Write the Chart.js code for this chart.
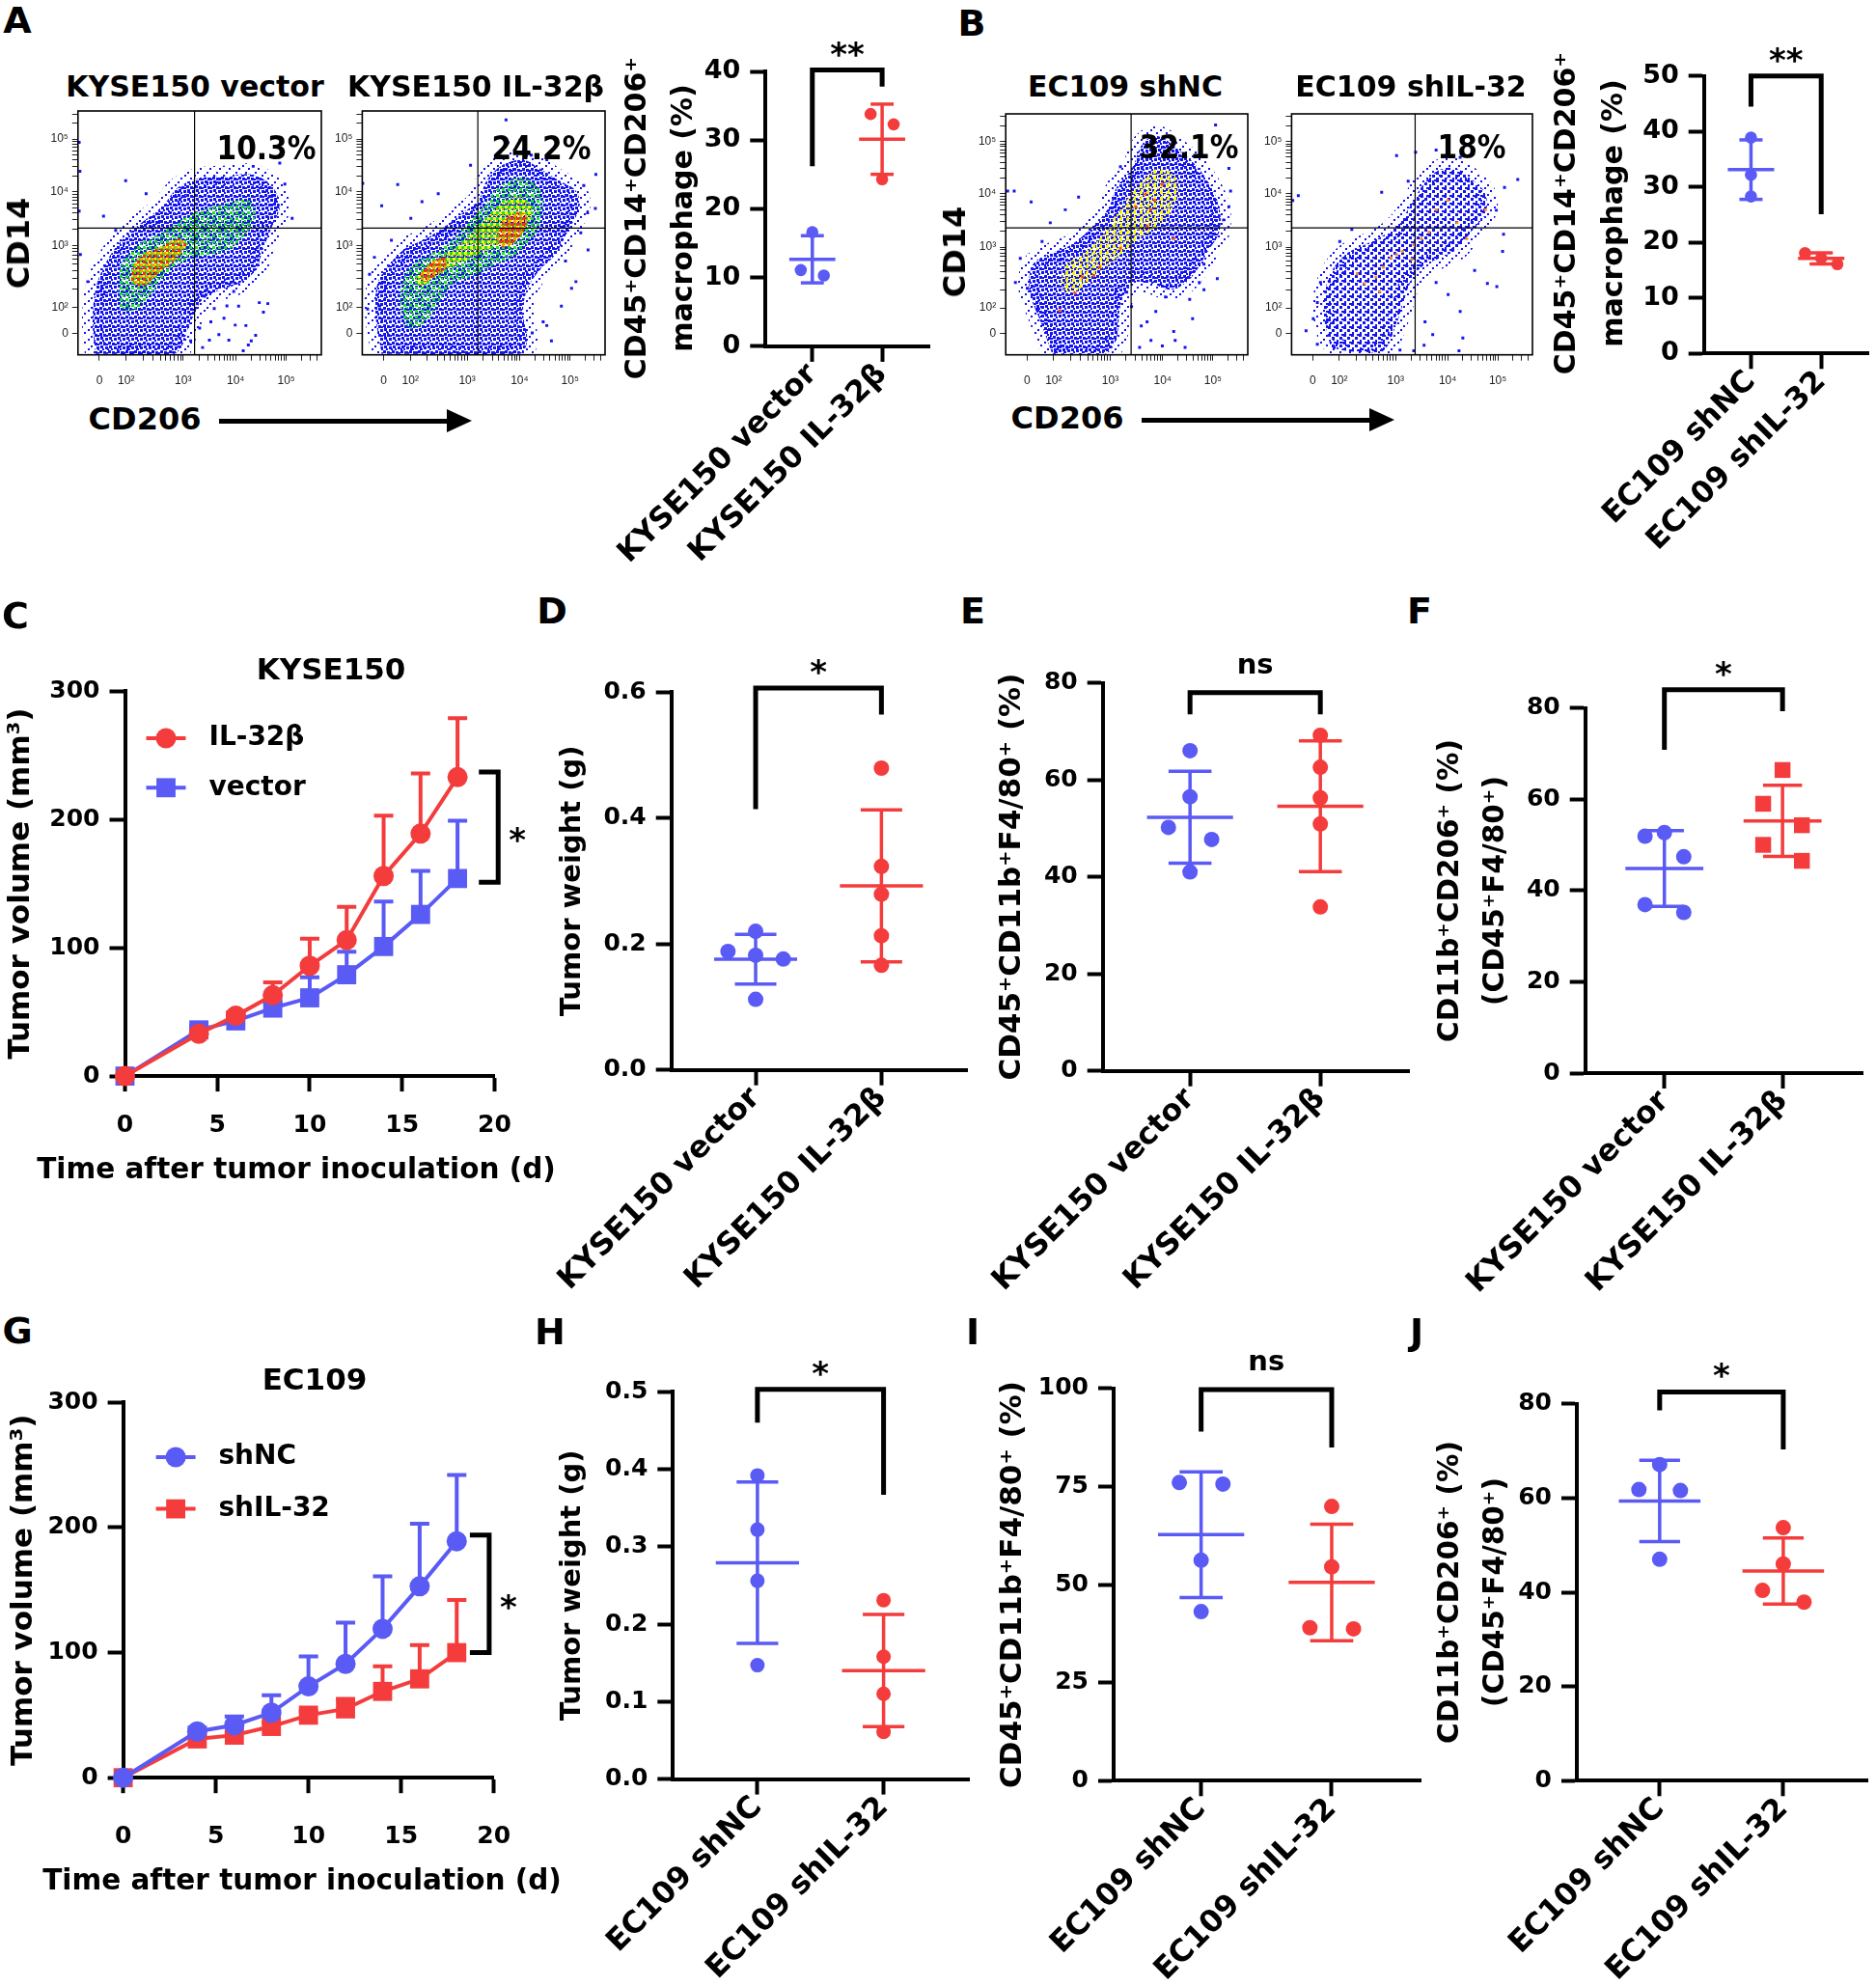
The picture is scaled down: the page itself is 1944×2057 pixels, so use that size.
<!DOCTYPE html>
<html>
<head>
<meta charset="utf-8">
<title>IL-32 macrophage figure</title>
<script src="https://cdn.jsdelivr.net/npm/chart.js@4.4.1/dist/chart.umd.min.js"></script>
<style>
  body { margin: 0; width: 1944px; height: 2057px; position: relative; overflow: hidden; background: #fff;
         font-family: 'DejaVu Sans', sans-serif; font-weight: bold; color: #000; }
  canvas { position: absolute; }
  .lbl { position: absolute; white-space: nowrap; line-height: 1; transform: translate(-50%, -50%); }
  .arrow { position: absolute; height: 5px; background: #000; }
  .arrow::after { content: ''; position: absolute; right: -25px; top: -10px; border-left: 26px solid #000;
                  border-top: 12.5px solid transparent; border-bottom: 12.5px solid transparent; }
</style>
</head>
<body>
<script>
// ---------- flow cytometry plots (A, B): display channel units 0-1000 on both axes ----------
const flowTickX = [88, 198, 432, 648, 856];
const flowTickY = [89, 195, 447, 669, 885];
const flowTickLabels = ['0', '10²', '10³', '10⁴', '10⁵'];

// density outlines, [x, y]
const a1Blue = [[72,4],[60,135],[72,267],[105,359],[163,451],[246,530],[346,608],[413,687],[512,727],[612,733],[712,740],[795,694],[829,608],[799,530],[762,438],[729,346],[662,293],[587,267],[512,227],[463,135],[396,4]];
const a1Green = [[163,267],[180,372],[246,451],[346,503],[429,556],[512,595],[612,622],[696,635],[729,582],[696,503],[629,438],[546,411],[463,398],[379,346],[313,267],[246,188],[180,188]];
const a1Hot = [[213,306],[246,398],[329,438],[413,477],[446,451],[396,385],[329,332],[263,280]];
const a1Dots = [[5,871],[8,753],[5,589],[196,714],[280,661],[105,569],[155,510],[829,786],[720,773],[529,267],[612,201],[646,122],[762,175],[712,57],[579,83],[512,30],[679,17],[10,411],[745,214],[546,135],[463,57],
  [520,240],[560,190],[600,150],[640,260],[690,120],[730,80],[780,210],[620,60],[500,110],[540,60],[660,200],[700,40],[880,560],[850,700],[40,300]];

const a2Blue = [[80,4],[55,162],[63,293],[113,372],[180,438],[263,477],[346,530],[413,582],[479,635],[512,714],[579,779],[662,799],[729,766],[812,714],[879,674],[895,608],[845,503],[795,411],[729,346],[679,267],[662,175],[679,57],[646,4]];
const a2Green = [[155,188],[163,293],[213,372],[280,411],[363,464],[429,530],[496,608],[562,687],[646,727],[712,700],[745,635],[729,530],[679,451],[612,398],[546,372],[479,332],[379,293],[313,214],[263,135],[196,109]];
const a2Yellow = [[213,306],[280,372],[363,424],[446,490],[512,556],[579,622],[646,648],[696,608],[679,530],[612,477],[529,438],[446,398],[363,359],[296,319],[246,280]];
const a2RedLow = [[238,332],[280,378],[338,398],[346,359],[296,319],[255,300]];
const a2RedHigh = [[554,477],[579,543],[629,582],[679,569],[662,503],[612,451],[571,444]];
const a2Dots = [[592,963],[146,698],[80,611],[2,703],[246,628],[313,661],[446,777],[962,740],[912,694],[862,273],[837,385],[928,582],[745,135],[779,57],[72,201],[22,188],[696,819],
  [900,500],[930,430],[880,300],[760,120],[820,200],[50,400],[30,330],[120,470],[200,560],[600,870],[650,880],[760,800],[960,600],[700,90]];

const b1Blue = [[192,4],[144,137],[97,270],[113,376],[176,416],[270,456],[364,535],[427,615],[458,695],[521,774],[568,880],[631,907],[710,854],[772,801],[835,721],[882,615],[882,509],[835,429],[788,349],[741,296],[678,270],[600,296],[521,296],[474,203],[458,70],[411,4]];
const b1Yellow = [[223,296],[254,376],[333,429],[411,509],[458,588],[521,668],[584,748],[647,774],[710,721],[694,615],[631,535],[553,482],[490,429],[427,376],[364,323],[301,270],[254,256]];
const b1Hot = [[600,602],[615,641],[647,708],[577,668],[537,615],[474,442],[388,363],[317,323],[364,329],[223,183],[286,256],[694,482],[584,535]];
const b1Dots = [[8,680],[35,680],[105,635],[301,655],[184,548],[246,602],[474,781],[867,954],[922,774],[929,680],[874,316],[819,270],[772,150],[741,31],[647,37],[694,97],[553,31],[584,137],[89,276],[129,189],[819,376],[922,615],
  [520,200],[560,120],[620,180],[660,240],[700,60],[600,60],[760,230],[500,260],[800,300],[860,500],[900,560],[60,400],[40,300],[150,470]];

const b2Blue = [[162,31],[130,203],[162,336],[224,416],[303,456],[381,495],[444,548],[491,615],[538,695],[601,761],[680,774],[758,721],[805,668],[805,588],[743,509],[695,442],[617,402],[538,363],[491,296],[460,203],[429,110],[381,17],[303,11],[224,17]];
const b2Hot = [[381,363],[350,323],[413,402],[460,429],[507,456],[538,482],[601,602],[648,641],[687,548],[727,482],[303,296],[366,263],[272,336],[570,509],[805,602],[436,416],[499,396]];
const b2Dots = [[5,641],[28,661],[107,217],[146,137],[107,44],[177,31],[436,827],[515,841],[374,675],[484,721],[884,695],[876,429],[813,296],[852,283],[695,17],[711,70],[586,84],[507,17],[554,137],[939,728],[319,17],
  [200,470],[250,520],[120,300],[90,150],[60,100],[600,300],[650,250],[700,180],[760,350],[850,600],[880,500],[600,850],[700,820],[550,40],[450,20]];

// quadrant gates [x, y]
const gateA1 = [479, 520], gateA2 = [476, 520], gateB1 = [518, 527], gateB2 = [513, 527];

// ---------- dot plots ----------
const catsKyse = ['KYSE150 vector', 'KYSE150 IL-32β'];
const catsEc = ['EC109 shNC', 'EC109 shIL-32'];

const aVector = [16.6, 11.1, 10.3], aVectorSlot = [0, -1, 1];
const aIL32 = [33.8, 32.3, 24.3], aIL32Slot = [-1, 1, 0];
const bShNC = [38.9, 32.2, 28.3], bShNCSlot = [0, 0, 0];
const bShIL = [18.1, 17.2, 16.1], bShILSlot = [-1, 0, 1];
const dVector = [0.22, 0.188, 0.182, 0.176, 0.112], dVectorSlot = [0, -1, 0, 1, 0];
const dIL32 = [0.479, 0.323, 0.279, 0.213, 0.166], dIL32Slot = [0, 0, 0, 0, 0];
const eVector = [66.0, 56.5, 50.2, 47.7, 41.0], eVectorSlot = [0, 0, -1, 1, 0];
const eIL32 = [69.2, 62.6, 56.3, 50.9, 33.8], eIL32Slot = [0, 0, 0, 0, 0];
const fVector = [51.9, 52.7, 47.4, 36.9, 35.2], fVectorSlot = [-1, 0, 1, -1, 1];
const fIL32 = [66.4, 59.0, 54.3, 50.0, 46.5], fIL32Slot = [0, -1, 1, -1, 1];
const hShNC = [0.392, 0.322, 0.256, 0.147], hShNCSlot = [0, 0, 0, 0];
const hShIL = [0.231, 0.158, 0.110, 0.061], hShILSlot = [0, 0, 0, 0];
const iShNC = [76.0, 75.6, 56.2, 43.1], iShNCSlot = [-1, 1, 0, 0];
const iShIL = [69.9, 54.5, 39.0, 38.7], iShILSlot = [0, 0, -1, 1];
const jShNC = [67.1, 61.8, 61.6, 47.0], jShNCSlot = [0, -1, 1, 0];
const jShIL = [53.7, 46.0, 40.4, 37.9], jShILSlot = [0, 0, -1, 1];

// significance brackets: [text, top, left leg end, right leg end]
const sigA = ['**', 40.2, 26.2, 37.8];
const sigB = ['**', 50, 44.5, 25.1];
const sigD = ['*', 0.606, 0.414, 0.564];
const sigE = ['ns', 78.0, 73.5, 73.5];
const sigF = ['*', 84.0, 70.8, 79.3];
const sigH = ['*', 0.503, 0.460, 0.367];
const sigI = ['ns', 99.7, 89.0, 84.9];
const sigJ = ['*', 82.5, 78.6, 70.3];

// ---------- tumour growth (C, G) ----------
const days = [0, 4, 6, 8, 10, 12, 14, 16, 18];
const cIL32 = [0, 33, 47, 63, 86, 106, 156, 189, 233];
const cIL32Sd = [0, 3, 3, 10, 21, 26, 47, 47, 46];
const cVector = [0, 36, 43, 53, 61, 79, 101, 126, 154];
const cVectorSd = [0, 3, 3, 4, 16, 18, 35, 34, 45];
const gShNC = [0, 37, 42, 52, 73, 91, 119, 153, 189];
const gShNCSd = [0, 3, 7, 14, 24, 33, 42, 50, 53];
const gShIL = [0, 31, 34, 41, 50, 55, 69, 79, 100];
const gShILSd = [0, 2, 2, 3, 3, 8, 20, 27, 42];
// vertical bracket: [text, x, high, low]
const sigC = ['*', 20.2, 237, 151];
const sigG = ['*', 19.75, 194, 100];

// ---------- styling ----------
const BLUE = '#5a5af5', RED = '#f43c3c';
const F_BLUE = '#1414f0', F_GREEN = '#22e022', F_YELLOW = '#f8f800', F_ORANGE = '#ff9a00', F_RED = '#ff2a10';

Chart.defaults.font.family = "'DejaVu Sans', sans-serif";
Chart.defaults.font.weight = 'bold';
Chart.defaults.color = '#000';
Chart.defaults.animation = false;
Chart.defaults.events = [];
Chart.defaults.responsive = false;
Chart.defaults.plugins.legend.display = false;
Chart.defaults.plugins.tooltip.enabled = false;

// canvas placed so that its chart area lands on the given axes box
function place(g) {
  const left = Math.round(g.ax - g.yW - g.pl), top = Math.round(g.top - g.pt);
  const w = Math.round(g.right + g.pr - left), h = Math.round(g.bottom + g.xH - top);
  const c = document.createElement('canvas');
  c.width = w; c.height = h;
  c.style.left = left + 'px'; c.style.top = top + 'px';
  document.body.appendChild(c);
  return { c, yW: g.ax - left - g.pl, xH: top + h - g.bottom,
           pad: { left: g.pl, top: g.top - top, right: left + w - g.right, bottom: 0 } };
}
const fixY = w => s => { s.width = w; s.paddingTop = 0; s.paddingBottom = 0; };
const fixX = h => s => { s.height = h; s.paddingLeft = 0; s.paddingRight = 0; };
const axisGrid = len => ({ display: true, drawOnChartArea: false, drawTicks: true, tickLength: len, tickWidth: 4, tickColor: '#000' });
const axisBorder = { display: true, width: 4, color: '#000' };

function tile(size, cells) {
  const c = document.createElement('canvas');
  c.width = c.height = size;
  const x = c.getContext('2d');
  cells.forEach(([col, px, py, s]) => { x.fillStyle = col; x.fillRect(px, py, s, s); });
  return x.createPattern(c, 'repeat');
}
const pBlueDense = tile(9, [[F_BLUE,0,0,3],[F_BLUE,4,1,3],[F_BLUE,1,4,3],[F_BLUE,6,5,3],[F_BLUE,3,7,2],[F_BLUE,7,2,2]]);
const pBlueMid = tile(8, [[F_BLUE,0,0,3],[F_BLUE,4,3,3],[F_BLUE,1,6,2],[F_BLUE,6,0,2]]);
const pBlueEdge = tile(10, [[F_BLUE,0,0,2],[F_BLUE,6,3,2],[F_BLUE,3,7,2]]);
const pGreenMix = tile(6, [[F_GREEN,3,0,3],[F_GREEN,0,3,2]]);
const pHotA1 = tile(6, [[F_ORANGE,0,0,3],[F_RED,3,3,3],[F_YELLOW,3,0,2],[F_GREEN,0,3,2]]);
const pYellowA2 = tile(6, [[F_YELLOW,0,0,3],[F_ORANGE,3,3,2],[F_GREEN,3,0,2]]);
const pRedA2 = tile(6, [[F_RED,0,0,3],[F_ORANGE,3,3,3],[F_RED,3,0,2],[F_YELLOW,0,3,2]]);
const pYellowB1 = tile(7, [[F_YELLOW,0,0,3],[F_YELLOW,4,3,2],[F_YELLOW,1,5,2]]);

function flowTicks(major) {
  const t = major.map(v => ({ value: v }));
  for (let i = 1; i < major.length; i++) {
    const d = i < major.length - 1 ? major[i + 1] - major[i] : major[i] - major[i - 1];
    for (let k = 2; k <= 9; k++) {
      const v = major[i] + Math.log10(k) * d;
      if (v < 1000) t.push({ value: v });
    }
  }
  return t.sort((a, b) => a.value - b.value);
}
const ring = pts => pts.concat([pts[0]]).map(([x, y]) => ({ x, y }));

const framePlugin = gate => ({
  id: 'frame',
  afterDatasetsDraw(ch) {
    const { ctx, chartArea: a, scales: { x, y } } = ch;
    const gx = x.getPixelForValue(gate[0]), gy = y.getPixelForValue(gate[1]);
    ctx.save();
    ctx.strokeStyle = '#000'; ctx.lineWidth = 1.2;
    ctx.beginPath();
    ctx.moveTo(gx, a.top); ctx.lineTo(gx, a.bottom);
    ctx.moveTo(a.left, gy); ctx.lineTo(a.right, gy);
    ctx.stroke();
    ctx.lineWidth = 1.6;
    ctx.strokeRect(a.left, a.top, a.right - a.left, a.bottom - a.top);
    ctx.restore();
  }
});

function flowChart(g, layers, dots, gate) {
  const p = place(g);
  const datasets = layers.map(L => ({
    type: 'line', data: ring(L.pts), fill: 'shape', tension: 0.35,
    backgroundColor: L.fill, borderColor: L.edge || 'rgba(0,0,0,0)', borderWidth: L.edge ? L.w : 1,
    pointRadius: 0, order: L.order
  }));
  dots.forEach(D => datasets.push({
    data: D.pts.map(([x, y]) => ({ x, y })), pointStyle: 'rect', pointRadius: 2.1,
    backgroundColor: D.color, borderWidth: 0, order: 0
  }));
  const font = { family: "'Liberation Sans', sans-serif", weight: 'normal', size: 12 };
  const axis = (major, fit, pad) => ({
    type: 'linear', min: 0, max: 1000, afterFit: fit,
    afterBuildTicks: s => { s.ticks = flowTicks(major); },
    grid: { display: true, drawOnChartArea: false, drawTicks: true, tickLength: 6, tickWidth: 1, tickColor: '#222' },
    border: { display: false },
    ticks: { autoSkip: false, maxRotation: 0, padding: pad, font, color: '#222',
             callback: v => { const i = major.indexOf(v); return i < 0 ? '' : flowTickLabels[i]; } }
  });
  new Chart(p.c, {
    type: 'scatter',
    data: { datasets },
    options: { layout: { padding: p.pad },
               scales: { x: axis(flowTickX, fixX(p.xH), 14), y: axis(flowTickY, fixY(p.yW), 4) } },
    plugins: [framePlugin(gate)]
  });
}

function drawSig(ch, sig) {
  const { ctx, scales: { x, y } } = ch;
  const [txt, top, l, r] = sig;
  const x0 = x.getPixelForValue(0), x1 = x.getPixelForValue(1), pt = y.getPixelForValue(top);
  ctx.save();
  ctx.strokeStyle = '#000'; ctx.lineWidth = 5; ctx.lineJoin = 'miter'; ctx.lineCap = 'butt';
  ctx.beginPath();
  ctx.moveTo(x0, y.getPixelForValue(l)); ctx.lineTo(x0, pt); ctx.lineTo(x1, pt); ctx.lineTo(x1, y.getPixelForValue(r));
  ctx.stroke();
  const star = txt !== 'ns';
  ctx.fillStyle = '#000'; ctx.textAlign = 'center'; ctx.textBaseline = 'alphabetic';
  ctx.font = `bold ${star ? 34 : 29}px "DejaVu Sans"`;
  ctx.fillText(txt, (x0 + x1) / 2, star ? pt - 5 : pt - 20);
  ctx.restore();
}

function statsPlugin(o) {
  return {
    id: 'stats',
    beforeDatasetsDraw(ch) {
      const { ctx, scales: { x, y } } = ch;
      o.groups.forEach((gr, k) => {
        const n = gr.vals.length;
        const m = gr.vals.reduce((a, b) => a + b, 0) / n;
        const sd = Math.sqrt(gr.vals.reduce((a, b) => a + (b - m) ** 2, 0) / (n - 1));
        const seg = (xa, ya, xb, yb) => {
          ctx.beginPath();
          ctx.moveTo(x.getPixelForValue(xa), y.getPixelForValue(ya));
          ctx.lineTo(x.getPixelForValue(xb), y.getPixelForValue(yb));
          ctx.stroke();
        };
        ctx.save();
        ctx.strokeStyle = gr.color; ctx.lineWidth = 3.5;
        seg(k - 0.33, m, k + 0.33, m);
        seg(k, m - sd, k, m + sd);
        seg(k - 0.165, m + sd, k + 0.165, m + sd);
        seg(k - 0.165, m - sd, k + 0.165, m - sd);
        ctx.restore();
      });
    },
    afterDraw(ch) { drawSig(ch, o.sig); }
  };
}

function dotChart(g, o) {
  const p = place(g);
  const datasets = o.groups.map((gr, k) => ({
    data: gr.vals.map((v, i) => ({ x: k + gr.slots[i] * o.step, y: v })),
    backgroundColor: gr.color, borderWidth: 0, clip: false,
    pointStyle: gr.shape || 'circle', pointRadius: gr.shape === 'rect' ? o.r * 1.45 : o.r
  }));
  const yTitle = o.title ? { display: true, text: o.title, padding: 0, font: { size: o.tsize || 29, lineHeight: 1.2 } } : { display: false };
  new Chart(p.c, {
    type: 'scatter',
    data: { datasets },
    options: {
      layout: { padding: p.pad },
      scales: {
        x: { type: 'linear', min: -0.67, max: 1.68, afterFit: fixX(p.xH),
             afterBuildTicks: s => { s.ticks = [{ value: 0 }, { value: 1 }]; },
             grid: axisGrid(16), border: axisBorder,
             ticks: { autoSkip: false, minRotation: 45, maxRotation: 45, padding: -5, font: { size: o.csize || 31.5 },
                      callback: v => o.cats[v] } },
        y: { min: 0, max: o.ymax, afterFit: fixY(p.yW), grid: axisGrid(16), border: axisBorder,
             ticks: { stepSize: o.ystep, padding: 10, font: { size: o.ksize || 25 }, callback: o.fmt || (v => v) },
             title: yTitle }
      }
    },
    plugins: [statsPlugin(o)]
  });
}

function growthPlugin(o) {
  return {
    id: 'growth',
    beforeDatasetsDraw(ch) {
      const { ctx, scales: { x, y } } = ch;
      o.series.forEach(s => {
        ctx.save();
        ctx.strokeStyle = s.color; ctx.lineWidth = 4;
        days.forEach((d, i) => {
          if (!s.sd[i]) return;
          const px = x.getPixelForValue(d), py = y.getPixelForValue(s.vals[i]), pt = y.getPixelForValue(s.vals[i] + s.sd[i]);
          ctx.beginPath();
          ctx.moveTo(px, py); ctx.lineTo(px, pt);
          ctx.moveTo(px - 10, pt); ctx.lineTo(px + 10, pt);
          ctx.stroke();
        });
        ctx.restore();
      });
    },
    afterDraw(ch) {
      const { ctx, chartArea: a, scales: { x, y } } = ch;
      ctx.save();
      o.series.forEach((s, i) => {
        const ly = a.top + o.leg.y0 + i * o.leg.dy;
        ctx.strokeStyle = s.color; ctx.lineWidth = 4;
        ctx.beginPath(); ctx.moveTo(a.left + o.leg.x0, ly); ctx.lineTo(a.left + o.leg.x1, ly); ctx.stroke();
        ctx.fillStyle = s.color;
        Chart.helpers.drawPoint(ctx, { pointStyle: s.shape, radius: s.shape === 'rect' ? 14 : 10.5, rotation: 0, borderWidth: 0 },
          a.left + (o.leg.x0 + o.leg.x1) / 2, ly);
        ctx.fillStyle = '#000'; ctx.font = 'bold 28px "DejaVu Sans"'; ctx.textBaseline = 'middle'; ctx.textAlign = 'left';
        ctx.fillText(s.label, a.left + o.leg.tx, ly);
      });
      const [txt, xv, hi, lo] = o.sig;
      const px = x.getPixelForValue(xv), ph = y.getPixelForValue(hi), pl = y.getPixelForValue(lo);
      ctx.strokeStyle = '#000'; ctx.lineWidth = 5; ctx.lineJoin = 'miter';
      ctx.beginPath(); ctx.moveTo(px - 20, ph); ctx.lineTo(px, ph); ctx.lineTo(px, pl); ctx.lineTo(px - 20, pl); ctx.stroke();
      ctx.fillStyle = '#000'; ctx.font = 'bold 34px "DejaVu Sans"'; ctx.textAlign = 'center'; ctx.textBaseline = 'alphabetic';
      ctx.fillText(txt, px + 20, (ph + pl) / 2 + 25);
      ctx.restore();
    }
  };
}

function growthChart(g, o) {
  const p = place(g);
  const datasets = o.series.map(s => ({
    label: s.label, data: days.map((d, i) => ({ x: d, y: s.vals[i] })),
    showLine: true, borderColor: s.color, backgroundColor: s.color, borderWidth: 4,
    pointStyle: s.shape, pointRadius: s.shape === 'rect' ? 14 : 10.5, pointBorderWidth: 0, clip: false
  }));
  new Chart(p.c, {
    type: 'scatter',
    data: { datasets },
    options: {
      layout: { padding: p.pad },
      scales: {
        x: { min: 0, max: 20, afterFit: fixX(p.xH), grid: axisGrid(16), border: axisBorder,
             ticks: { stepSize: 5, padding: o.xpad, font: { size: 25 }, maxRotation: 0 } },
        y: { min: 0, max: 300, afterFit: fixY(p.yW), grid: axisGrid(16), border: axisBorder,
             ticks: { stepSize: 100, padding: 10, font: { size: 25 } },
             title: { display: true, text: 'Tumor volume (mm³)', padding: 0, font: { size: 31 } } }
      }
    },
    plugins: [growthPlugin(o)]
  });
}

function label(text, cx, cy, size, extra) {
  const d = document.createElement('div');
  d.className = 'lbl'; d.textContent = text;
  d.style.left = cx + 'px'; d.style.top = cy + 'px'; d.style.fontSize = size + 'px';
  if (extra) Object.assign(d.style, extra);
  document.body.appendChild(d);
}
const vert = { transform: 'translate(-50%, -50%) rotate(-90deg)' };
function arrow(x1, x2, y) {
  const d = document.createElement('div');
  d.className = 'arrow';
  d.style.left = x1 + 'px'; d.style.top = (y - 2.5) + 'px'; d.style.width = (x2 - x1 - 24) + 'px';
  document.body.appendChild(d);
}

// ---------- A, B flow plots ----------
const flowA1 = { ax: 80.8, top: 114, right: 333.8, bottom: 367.7, yW: 50, xH: 45, pt: 3, pr: 3, pl: 0 };
const flowA2 = Object.assign({}, flowA1, { ax: 375.4, right: 628.4 });
const flowB1 = { ax: 1042.2, top: 116.7, right: 1294.1, bottom: 367.7, yW: 50, xH: 45, pt: 3, pr: 3, pl: 0 };
const flowB2 = Object.assign({}, flowB1, { ax: 1338.4, right: 1589.3 });

flowChart(flowA1, [
  { pts: a1Blue, fill: pBlueDense, edge: pBlueEdge, w: 22, order: 5 },
  { pts: a1Green, fill: pGreenMix, order: 4 },
  { pts: a1Hot, fill: pHotA1, order: 3 }
], [{ pts: a1Dots, color: F_BLUE }], gateA1);

flowChart(flowA2, [
  { pts: a2Blue, fill: pBlueDense, edge: pBlueEdge, w: 22, order: 5 },
  { pts: a2Green, fill: pGreenMix, order: 4 },
  { pts: a2Yellow, fill: pYellowA2, order: 3 },
  { pts: a2RedLow, fill: pRedA2, order: 2 },
  { pts: a2RedHigh, fill: pRedA2, order: 2 }
], [{ pts: a2Dots, color: F_BLUE }], gateA2);

flowChart(flowB1, [
  { pts: b1Blue, fill: pBlueDense, edge: pBlueEdge, w: 22, order: 5 },
  { pts: b1Yellow, fill: pYellowB1, order: 4 }
], [{ pts: b1Dots, color: F_BLUE }, { pts: b1Hot, color: '#ff4a10' }], gateB1);

flowChart(flowB2, [
  { pts: b2Blue, fill: pBlueMid, edge: pBlueEdge, w: 22, order: 5 }
], [{ pts: b2Dots, color: F_BLUE }, { pts: b2Hot, color: '#ff9020' }], gateB2);

// ---------- A, B dot plots ----------
dotChart({ ax: 793.3, top: 74, right: 963.3, bottom: 358.9, yW: 158, xH: 250, pt: 45, pr: 8, pl: 40 }, {
  cats: catsKyse, step: 0.165, r: 6.3, ymax: 40, ystep: 10, sig: sigA, ksize: 27, csize: 31,
  groups: [{ vals: aVector, slots: aVectorSlot, color: BLUE }, { vals: aIL32, slots: aIL32Slot, color: RED }]
});
dotChart({ ax: 1765.7, top: 78.8, right: 1936.7, bottom: 366.3, yW: 167, xH: 250, pt: 45, pr: 7, pl: 40 }, {
  cats: catsEc, step: 0.23, r: 6.3, ymax: 50, ystep: 10, sig: sigB, ksize: 27, csize: 31,
  groups: [{ vals: bShNC, slots: bShNCSlot, color: BLUE }, { vals: bShIL, slots: bShILSlot, color: RED }]
});

// ---------- C, G tumour growth ----------
growthChart({ ax: 129.5, top: 716.3, right: 512.4, bottom: 1115.1, yW: 127, xH: 114.6, pt: 60, pr: 50, pl: 2 }, {
  xpad: 20, sig: sigC, leg: { x0: 22, x1: 63, tx: 87, y0: 48.7, dy: 51.3 },
  series: [{ label: 'IL-32β', vals: cIL32, sd: cIL32Sd, color: RED, shape: 'circle' },
           { label: 'vector', vals: cVector, sd: cVectorSd, color: BLUE, shape: 'rect' }]
});
growthChart({ ax: 127.6, top: 1453.3, right: 511.7, bottom: 1842.2, yW: 122, xH: 124.5, pt: 50, pr: 50, pl: 2 }, {
  xpad: 30, sig: sigG, leg: { x0: 34, x1: 75, tx: 98.8, y0: 56.7, dy: 53.6 },
  series: [{ label: 'shNC', vals: gShNC, sd: gShNCSd, color: BLUE, shape: 'circle' },
           { label: 'shIL-32', vals: gShIL, sd: gShILSd, color: RED, shape: 'rect' }]
});

// ---------- D, E, F ----------
dotChart({ ax: 695.7, top: 717, right: 1005, bottom: 1108.7, yW: 120, xH: 240, pt: 50, pr: 5, pl: 30 }, {
  cats: catsKyse, step: 0.22, r: 8, ymax: 0.6, ystep: 0.2, fmt: v => v.toFixed(1), sig: sigD,
  title: 'Tumor weight (g)',
  groups: [{ vals: dVector, slots: dVectorSlot, color: BLUE }, { vals: dIL32, slots: dIL32Slot, color: RED }]
});
dotChart({ ax: 1142.7, top: 707.6, right: 1463.3, bottom: 1109.7, yW: 112.5, xH: 240, pt: 50, pr: 5, pl: 30 }, {
  cats: catsKyse, step: 0.166, r: 8, ymax: 80, ystep: 20, sig: sigE,
  title: 'CD45⁺CD11b⁺F4/80⁺ (%)', tsize: 31,
  groups: [{ vals: eVector, slots: eVectorSlot, color: BLUE }, { vals: eIL32, slots: eIL32Slot, color: RED }]
});
dotChart({ ax: 1642.7, top: 733.6, right: 1937, bottom: 1112, yW: 163.6, xH: 240, pt: 60, pr: 5, pl: 20 }, {
  cats: catsKyse, step: 0.164, r: 8, ymax: 80, ystep: 20, sig: sigF,
  groups: [{ vals: fVector, slots: fVectorSlot, color: BLUE }, { vals: fIL32, slots: fIL32Slot, color: RED, shape: 'rect' }]
});

// ---------- H, I, J ----------
dotChart({ ax: 697.3, top: 1442.2, right: 1006.7, bottom: 1843.6, yW: 121.4, xH: 212, pt: 45, pr: 5, pl: 30 }, {
  cats: catsEc, step: 0.17, r: 7.5, ymax: 0.5, ystep: 0.1, fmt: v => v.toFixed(1), sig: sigH,
  title: 'Tumor weight (g)',
  groups: [{ vals: hShNC, slots: hShNCSlot, color: BLUE }, { vals: hShIL, slots: hShILSlot, color: RED }]
});
dotChart({ ax: 1154, top: 1438.7, right: 1475, bottom: 1845.3, yW: 123, xH: 210, pt: 45, pr: 5, pl: 30 }, {
  cats: catsEc, step: 0.167, r: 8, ymax: 100, ystep: 25, sig: sigI,
  title: 'CD45⁺CD11b⁺F4/80⁺ (%)', tsize: 31,
  groups: [{ vals: iShNC, slots: iShNCSlot, color: BLUE }, { vals: iShIL, slots: iShILSlot, color: RED }]
});
dotChart({ ax: 1634, top: 1454.7, right: 1938.3, bottom: 1845.3, yW: 155, xH: 210, pt: 55, pr: 5, pl: 20 }, {
  cats: catsEc, step: 0.168, r: 8, ymax: 80, ystep: 20, sig: sigJ,
  groups: [{ vals: jShNC, slots: jShNCSlot, color: BLUE }, { vals: jShIL, slots: jShILSlot, color: RED }]
});

// ---------- text ----------
const cond = { fontFamily: "'DejaVu Sans Condensed', 'DejaVu Sans', sans-serif" };
[['A', 18, 21], ['B', 1007, 24], ['C', 16, 638], ['D', 572, 633], ['E', 1008, 633], ['F', 1471, 633],
 ['G', 18, 1379], ['H', 570, 1380], ['I', 1008, 1380], ['J', 1468, 1380]].forEach(([t, x, y]) => label(t, x, y, 38));

label('KYSE150 vector', 202, 90, 30);
label('KYSE150 IL-32β', 493, 90, 30);
label('EC109 shNC', 1166, 90, 30);
label('EC109 shIL-32', 1462, 90, 30);
label('10.3%', 276, 153, 33, cond);
label('24.2%', 561, 153, 33, cond);
label('32.1%', 1232, 152, 33, cond);
label('18%', 1525, 152, 33, cond);
label('CD14', 19, 252, 32, vert);
label('CD14', 989, 261, 32, vert);
label('CD206', 150, 434, 32);
label('CD206', 1106, 433, 32);
arrow(227, 488, 436);
arrow(1183, 1444, 435);

label('CD45⁺CD14⁺CD206⁺', 659, 226, 30, vert);
label('macrophage (%)', 707, 226, 30, vert);
label('CD45⁺CD14⁺CD206⁺', 1622, 221, 30, vert);
label('macrophage (%)', 1671, 221, 30, vert);
label('CD11b⁺CD206⁺ (%)', 1502, 923, 29.5, vert);
label('(CD45⁺F4/80⁺)', 1549, 923, 29.5, vert);
label('CD11b⁺CD206⁺ (%)', 1502, 1650, 29.5, vert);
label('(CD45⁺F4/80⁺)', 1549, 1650, 29.5, vert);

label('KYSE150', 343, 693, 31);
label('EC109', 326, 1429, 31);
label('Time after tumor inoculation (d)', 307, 1212, 29.5);
label('Time after tumor inoculation (d)', 313, 1949, 29.5);
</script>
</body>
</html>
